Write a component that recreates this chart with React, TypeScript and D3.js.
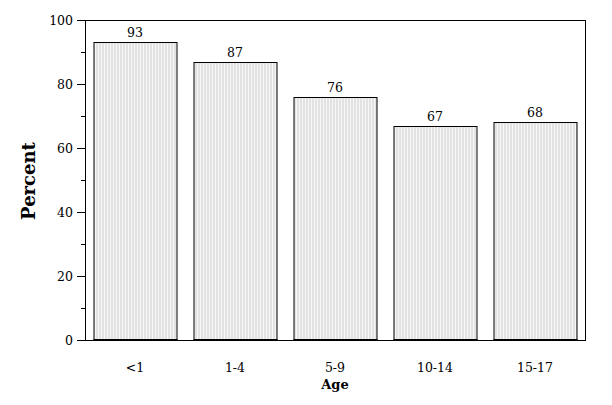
import React from "react";
import * as d3 from "d3";

const categories = ["<1", "1-4", "5-9", "10-14", "15-17"];
const values = [93, 87, 76, 67, 68];
const majorTicks = [0, 20, 40, 60, 80, 100];
const minorTicks = [10, 30, 50, 70, 90];

const W = 612, H = 405;
const L = 85, R = 585, T = 20, B = 340;

export default function App() {
  const x = d3.scaleBand<string>().domain(categories).range([L, R]).paddingInner(0.17).paddingOuter(0.085);
  const y = d3.scaleLinear().domain([0, 100]).range([B, T]);
  const font = "'DejaVu Serif', serif";
  return (
    <svg width={W} height={H} style={{ position: "absolute", left: 0, top: 0 }}>
      <defs>
        <pattern id="stripes" width={3} height={4} patternUnits="userSpaceOnUse">
          <rect width={3} height={4} fill="#e2e2e2" />
          <rect x={2} width={1} height={4} fill="#f7f7f7" />
        </pattern>
      </defs>
      <rect width={W} height={H} fill="#fff" />
      {categories.map((c, i) => (
        <g key={c}>
          <rect x={x(c)! + 0.5} y={Math.round(y(values[i])) + 0.5} width={x.bandwidth()} height={B - Math.round(y(values[i]))}
            fill="url(#stripes)" stroke="#000" strokeWidth={1} />
          <line x1={x(c)!} x2={x(c)! + x.bandwidth() + 1} y1={B} y2={B} stroke="#000" strokeWidth={2} />
          <text x={x(c)! + x.bandwidth() / 2} y={y(values[i]) - 5} textAnchor="middle" fontFamily={font} fontSize={12.5}>{values[i]}</text>
          <text x={x(c)! + x.bandwidth() / 2} y={372} textAnchor="middle" fontFamily={font} fontSize={12.5}>{c}</text>
        </g>
      ))}
      {/* frame */}
      <line x1={L + 0.5} x2={L + 0.5} y1={T} y2={B} stroke="#000" />
      <line x1={L} x2={R + 0.5} y1={T + 0.5} y2={T + 0.5} stroke="#000" />
      <line x1={R + 0.5} x2={R + 0.5} y1={T} y2={B} stroke="#000" />
      <line x1={L - 8} x2={R + 1} y1={B + 0.5} y2={B + 0.5} stroke="#000" />
      {majorTicks.map((t) => (
        <g key={t}>
          <line x1={L - 8} x2={L} y1={Math.round(y(t)) + 0.5} y2={Math.round(y(t)) + 0.5} stroke="#000" />
          <text x={73} y={y(t) + 4.5} textAnchor="end" fontFamily={font} fontSize={12.5}>{t}</text>
        </g>
      ))}
      {minorTicks.map((t) => (
        <line key={t} x1={L - 4} x2={L} y1={Math.round(y(t)) + 0.5} y2={Math.round(y(t)) + 0.5} stroke="#000" />
      ))}
      <text transform={`translate(35,181) rotate(-90)`} textAnchor="middle" fontFamily={font} fontSize={18} fontWeight="bold">Percent</text>
      <text x={335} y={389} textAnchor="middle" fontFamily={font} fontSize={13} fontWeight="bold">Age</text>
    </svg>
  );
}
